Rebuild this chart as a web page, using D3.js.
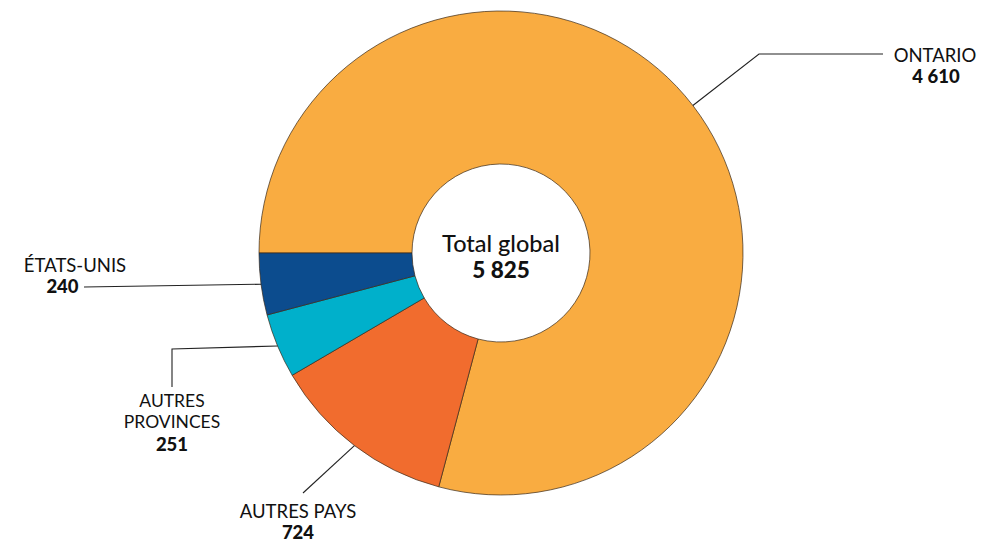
<!DOCTYPE html>
<html><head><meta charset="utf-8">
<script src="https://cdn.jsdelivr.net/npm/d3@7"></script>
<style>
html,body{margin:0;padding:0;background:#fff;}
text{font-family:"Lato","Open Sans",sans-serif;fill:#111;}
</style></head>
<body>
<svg id="chart" width="982" height="542"></svg>
<script>
const categories = ["ONTARIO", "AUTRES PAYS", "AUTRES PROVINCES", "ÉTATS-UNIS"];
const values = [4610, 724, 251, 240];
const valueLabels = ["4 610", "724", "251", "240"];
const colors = ["#F9AC41", "#F16C2E", "#00B0CB", "#0C4C8E"];
const centerTitle = "Total global";
const centerValue = "5 825";

const svg = d3.select("#chart");
const cx = 501, cy = 253, R = 242, r0 = 89;
const g = svg.append("g").attr("transform", `translate(${cx},${cy})`);

const pie = d3.pie().sort(null).startAngle(-Math.PI/2).endAngle(3*Math.PI/2);
const arcs = pie(values);
const arc = d3.arc().innerRadius(r0).outerRadius(R);

g.selectAll("path.slice").data(arcs).enter().append("path")
  .attr("class","slice")
  .attr("d", arc)
  .attr("fill", (d,i)=>colors[i])
  .attr("stroke", "#3a2a1a")
  .attr("stroke-width", 0.7);

// center text
g.append("text").attr("text-anchor","middle").attr("y",-1)
  .style("font-size","23.5px").style("font-weight",500).text(centerTitle);
g.append("text").attr("text-anchor","middle").attr("y",25)
  .style("font-size","22.5px").style("font-weight",900).text(centerValue);

// label layout (positions relative to the page)
const layout = [
  {elbow:[[759,54],[883,54]], fs:18.5, lines:[{t:0,x:935,y:62},{t:1,x:936,y:83}]},
  {elbow:[[303,493]], fs:18.5, lines:[{t:0,x:298,y:518},{t:1,x:298,y:539}]},
  {elbow:[[172,349],[172,387]], fs:17.5, lines:[{t:0,x:172,y:407,s:"AUTRES"},{t:0,x:172,y:428,s:"PROVINCES"},{t:1,x:172,y:451}]},
  {elbow:[[84,287]], fs:18.5, lines:[{t:0,x:75,y:272},{t:1,x:62.5,y:293}]}
];

const line = d3.line();
arcs.forEach((d,i)=>{
  const mid = (d.startAngle + d.endAngle)/2;
  const ax = cx + R*Math.sin(mid), ay = cy - R*Math.cos(mid);
  const pts = [[ax, ay], ...layout[i].elbow];
  svg.append("path").attr("d", line(pts)).attr("fill","none")
    .attr("stroke","#222").attr("stroke-width",1.1);
  layout[i].lines.forEach(l=>{
    svg.append("text").attr("x",l.x).attr("y",l.y).attr("text-anchor","middle")
      .style("font-size", (l.t===1 ? 18.5 : layout[i].fs) + "px")
      .style("font-weight", l.t===1 ? 900 : 400)
      .text(l.s || (l.t===1 ? valueLabels[i] : categories[i]));
  });
});
</script>
</body></html>
